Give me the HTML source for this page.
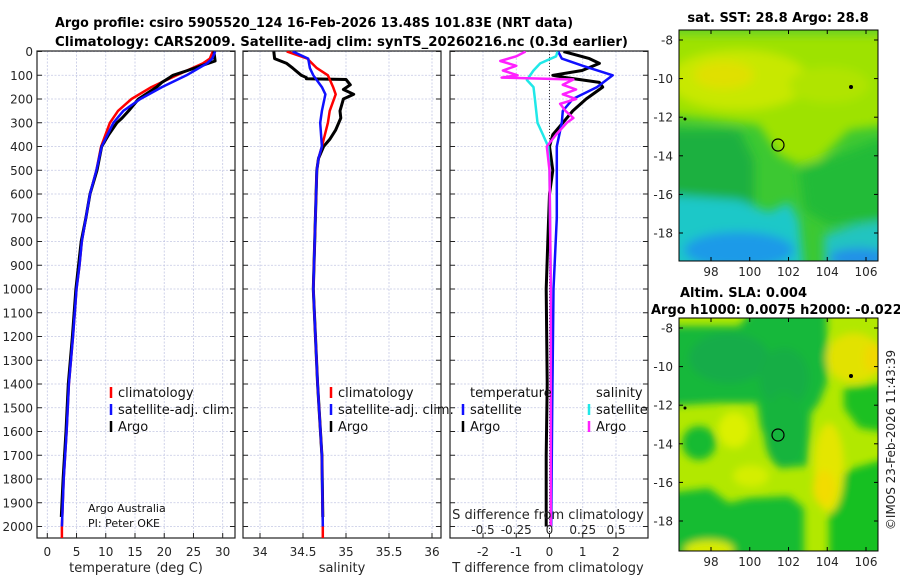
<!DOCTYPE html>
<html><head><meta charset="utf-8"><style>
html,body{margin:0;padding:0;background:#fff;}
svg{display:block;font-family:"DejaVu Sans","Liberation Sans",sans-serif;}
</style></head><body>
<svg id="fig" width="900" height="580" viewBox="0 0 900 580" xmlns="http://www.w3.org/2000/svg">
<defs>
<filter id="bl1" x="-20%" y="-20%" width="140%" height="140%"><feGaussianBlur stdDeviation="5"/></filter>
<filter id="bl2" x="-20%" y="-20%" width="140%" height="140%"><feGaussianBlur stdDeviation="4"/></filter>
<clipPath id="cm1"><rect x="679" y="30" width="199" height="231"/></clipPath>
<clipPath id="cm2"><rect x="679" y="318" width="199" height="233"/></clipPath>
<clipPath id="cp1"><rect x="37" y="51" width="198" height="487"/></clipPath>
<clipPath id="cp2"><rect x="243" y="51" width="198" height="487"/></clipPath>
<clipPath id="cp3"><rect x="450" y="51" width="198" height="487"/></clipPath>
</defs>
<text x="55" y="27" font-size="13" font-weight="bold" textLength="518" lengthAdjust="spacingAndGlyphs">Argo profile: csiro 5905520_124 16-Feb-2026 13.48S 101.83E (NRT data)</text>
<text x="55" y="46" font-size="13" font-weight="bold" textLength="573" lengthAdjust="spacingAndGlyphs">Climatology: CARS2009. Satellite-adj clim: synTS_20260216.nc (0.3d earlier)</text>

<!-- Map 1 -->
<g clip-path="url(#cm1)">
<rect x="679" y="30" width="199" height="231" fill="#3cc832"/>
<g transform="translate(679,30)" filter="url(#bl1)">
<polygon points="-10,-10 210,-10 210,95 170,100 140,130 120,135 100,125 80,95 -10,85" fill="#9ee200"/>
<ellipse cx="60" cy="50" rx="70" ry="30" fill="#c8e800"/>
<ellipse cx="45" cy="45" rx="30" ry="14" fill="#e0e000"/>
<ellipse cx="150" cy="55" rx="40" ry="18" fill="#b0e400"/>
<rect x="-10" y="-10" width="220" height="15" fill="#60d020"/>
<polygon points="-10,100 60,100 75,130 75,175 -10,170" fill="#1cb040"/>
<polygon points="120,140 199,110 210,110 210,190 150,195 125,180" fill="#22bb38"/>
<polygon points="-10,165 60,170 90,182 110,172 120,190 125,240 -10,240" fill="#1ec8c8"/>
<polygon points="145,205 175,195 210,190 210,240 145,240" fill="#20c4c0"/>
<ellipse cx="60" cy="220" rx="55" ry="18" fill="#1f9ae8"/>
<ellipse cx="180" cy="228" rx="30" ry="10" fill="#2090e8"/>
</g>
<circle cx="778" cy="145" r="6" fill="none" stroke="#000" stroke-width="1.2"/>
<circle cx="851" cy="87" r="2" fill="#000"/>
<circle cx="685" cy="119" r="1.5" fill="#000"/>
</g>
<rect x="679" y="30" width="199" height="231" fill="none" stroke="#000" stroke-width="1"/>
<text x="778" y="22" font-size="13" font-weight="bold" text-anchor="middle">sat. SST: 28.8 Argo: 28.8</text>

<!-- Map 2 -->
<g clip-path="url(#cm2)">
<rect x="679" y="318" width="199" height="233" fill="#b2e800"/>
<g transform="translate(679,318)" filter="url(#bl2)">
<polygon points="-10,8 60,8 75,-10 148,-10 148,65 140,85 132,95 128,148 100,150 82,110 78,85 40,85 -10,88" fill="#18b83a"/>
<ellipse cx="50" cy="40" rx="40" ry="25" fill="#14ac48"/>
<ellipse cx="105" cy="60" rx="25" ry="30" fill="#14ae44"/>
<ellipse cx="20" cy="125" rx="17" ry="17" fill="#18ba30"/>
<polygon points="165,70 210,65 210,115 180,110 165,90" fill="#1cc024"/>
<polygon points="-10,175 30,170 50,185 70,180 110,178 125,190 125,240 -10,240" fill="#18bc30"/>
<polygon points="150,165 175,150 210,140 210,240 150,240" fill="#18c020"/>
<ellipse cx="175" cy="40" rx="28" ry="25" fill="#e2e200"/>
<ellipse cx="195" cy="40" rx="10" ry="15" fill="#f0d800"/>
<ellipse cx="150" cy="150" rx="15" ry="45" fill="#e4e600"/>
<ellipse cx="145" cy="170" rx="11" ry="18" fill="#f2dc00"/>
<ellipse cx="55" cy="112" rx="16" ry="18" fill="#dcf000"/>
<ellipse cx="72" cy="158" rx="18" ry="11" fill="#d4ee00"/>
<ellipse cx="30" cy="232" rx="25" ry="10" fill="#d8ea00"/>
<ellipse cx="105" cy="112" rx="20" ry="38" fill="#16b43c"/>
</g>
<circle cx="778" cy="435" r="6" fill="none" stroke="#000" stroke-width="1.2"/>
<circle cx="851" cy="376" r="2" fill="#000"/>
<circle cx="685" cy="408" r="1.5" fill="#000"/>
</g>
<rect x="679" y="318" width="199" height="233" fill="none" stroke="#000" stroke-width="1"/>
<text x="680" y="297" font-size="13" font-weight="bold">Altim. SLA: 0.004</text>
<text x="651" y="314" font-size="13" font-weight="bold">Argo h1000: 0.0075 h2000: -0.022</text>
<text transform="translate(895,440) rotate(-90)" font-size="12" text-anchor="middle" fill="#222">©IMOS 23-Feb-2026 11:43:39</text>

<g id="plots"></g>
</svg>
<script>
// ---- data ----
const tempDepths = [0,30,50,100,150,200,250,300,400,500,600,700,800,900,1000,1200,1400,1600,1800,2000,2050];
const tempClim   = [28.3,27.8,26.6,22.1,17.8,14.4,12.1,10.7,9.2,8.4,7.3,6.6,5.9,5.5,5.0,4.4,3.7,3.3,2.8,2.5,2.5];
const tempSat    = [28.7,28.2,27.3,23.8,19.6,15.9,13.0,11.3,9.3,8.4,7.3,6.6,5.9,5.5,5.0,4.4,3.7,3.3,2.8,2.5,2.5];
const argoTDepths= [0,40,80,100,110,130,150,200,250,280,300,350,400,500,600,700,800,1000,1200,1400,1600,1800,1960];
const tempArgo   = [28.5,28.7,24.0,21.5,20.9,19.6,18.7,15.6,13.9,12.8,11.9,10.5,9.3,8.5,7.3,6.6,5.8,4.9,4.3,3.6,3.2,2.7,2.4];
const salDepths  = [0,30,70,100,150,180,250,300,400,450,500,1000,1400,1700,2000,2050];
const salClim    = [34.31,34.55,34.66,34.79,34.85,34.88,34.81,34.79,34.72,34.68,34.66,34.62,34.67,34.72,34.73,34.73];
const salSat     = [34.38,34.56,34.58,34.62,34.72,34.76,34.72,34.70,34.72,34.68,34.66,34.62,34.67,34.72,34.73,34.73];
const argoSDepths= [0,30,50,70,100,110,115,118,140,160,180,200,250,280,330,370,400,450,500,1000,1400,1700,1960];
const salArgo    = [34.16,34.17,34.31,34.38,34.48,34.54,34.54,35.00,35.05,34.97,35.09,34.97,34.93,34.94,34.88,34.81,34.74,34.68,34.66,34.62,34.67,34.72,34.73];
const dTSatDepths= [0,30,60,100,150,200,250,300,400,500,700,1000,1500,2000];
const dTSat      = [0.26,0.37,1.0,1.9,1.43,0.7,0.4,0.37,0.22,0.22,0.22,0.12,0.08,0.05];
const dTArgoDepths=[0,30,50,80,100,110,130,150,200,250,300,350,400,500,600,800,1000,1400,1700,2000];
const dTArgo     = [0.42,1.2,1.5,0.98,0.1,0.5,1.5,1.6,1.1,0.7,0.4,0.1,0.0,0.1,0.0,-0.05,-0.1,-0.07,-0.1,-0.1];
const dSSatDepths= [0,20,50,80,120,150,200,250,300,350,400,500,1000,2000];
const dSSat      = [0.06,0.05,-0.07,-0.12,-0.17,-0.12,-0.11,-0.1,-0.09,-0.05,-0.01,0.0,0.01,0.01];
const dSArgoDepths=[0,20,40,60,80,100,110,118,140,160,180,200,220,250,280,300,350,400,500,1000,2000];
const dSArgo     = [-0.18,-0.25,-0.37,-0.25,-0.35,-0.24,-0.36,0.18,0.1,0.2,0.1,0.2,0.08,0.12,0.18,0.13,0.05,-0.02,0.0,0.01,0.01];
const depthTicks = [0,100,200,300,400,500,600,700,800,900,1000,1100,1200,1300,1400,1500,1600,1700,1800,1900,2000];
const tempTicks  = [0,5,10,15,20,25,30];
const salTicks   = [34,34.5,35,35.5,36];
const salTickLabels = ["34","34.5","35","35.5","36"];
const dTTicks    = [-2,-1,0,1,2];
const dSTicks    = [-0.5,-0.25,0,0.25,0.5];
const dSTickLabels = ["-0.5","-0.25","0","0.25","0.5"];
const mapLonTicks = [98,100,102,104,106];
const mapLatTicks = [-8,-10,-12,-14,-16,-18];

// ---- scales ----
const NS = "http://www.w3.org/2000/svg";
const root = document.getElementById('plots');
const Y0 = 51.5, KY = 0.2375, YB = 538;
const yD = d => Y0 + d*KY;
const lin = (d0,d1,r0,r1) => v => r0 + (v-d0)/(d1-d0)*(r1-r0);
const xT  = lin(0,30,47.3,222.7);
const xS  = lin(34,36,260,432);
const xDT = lin(-2,2,483,616);
const xDS = lin(-0.5,0.5,483,616);
function el(tag, attrs, parent){ const e=document.createElementNS(NS,tag); for(const k in attrs) e.setAttribute(k,attrs[k]); (parent||root).appendChild(e); return e; }
function txt(s, attrs, parent){ const e=el('text',attrs,parent); e.textContent=s; return e; }

function panel(name, x0, x1, xs, ticks, labels, clip){
  const g = el('g',{});
  
  
  for (const d of depthTicks){ const y=yD(d); el('line',{x1:x0,x2:x1,y1:y,y2:y,stroke:'#c4c8e4','stroke-width':0.8,'stroke-dasharray':'2,1.5'},g); el('line',{x1:x0,x2:x0+5,y1:y,y2:y,stroke:'#222'},g); el('line',{x1:x1-5,x2:x1,y1:y,y2:y,stroke:'#222'},g); }
  ticks.forEach((t,i)=>{ const x=xs(t); el('line',{x1:x,x2:x,y1:51,y2:YB,stroke:'#c4c8e4','stroke-width':0.8,'stroke-dasharray':'2,1.5'},g); el('line',{x1:x,x2:x,y1:YB,y2:YB-5,stroke:'#222'},g);
    if(labels){ const l=txt(labels[i],{x:x,y:556,'font-size':12,'text-anchor':'middle',fill:'#262626'},g);   } });
  el('rect',{x:x0,y:51,width:x1-x0,height:YB-51,fill:'none',stroke:'#222','stroke-width':1.2},g);
  const lg = el('g',{'clip-path':clip},g);
  return lg;
}
function line(g, xs, depths, vals, color, w, name){
  const p = depths.map((d,i)=>xs(vals[i]).toFixed(1)+','+yD(d).toFixed(1)).join(' ');
  const e = el('polyline',{points:p,fill:'none',stroke:color,'stroke-width':w,'stroke-linejoin':'round'},g);
  
  
}
for (const d of depthTicks){ const t=txt(String(d),{x:33,y:yD(d)+4.5,'font-size':12,'text-anchor':'end',fill:'#262626'});
  
   }

const g1 = panel('temperature-panel',37,235,xT,tempTicks,tempTicks.map(String),'url(#cp1)');
line(g1,xT,tempDepths,tempClim,'#f00',2.5,'temp-climatology-line');
line(g1,xT,argoTDepths,tempArgo,'#000',3,'temp-argo-line');
line(g1,xT,tempDepths.slice(0,-1),tempSat.slice(0,-1),'#1010ff',2.5,'temp-satellite-line');
const g2 = panel('salinity-panel',243,441,xS,salTicks,salTickLabels,'url(#cp2)');
line(g2,xS,argoSDepths,salArgo,'#000',3,'sal-argo-line');
line(g2,xS,salDepths,salClim,'#f00',2.5,'sal-climatology-line');
line(g2,xS,salDepths.slice(0,-1),salSat.slice(0,-1),'#1010ff',2.5,'sal-satellite-line');
const g3 = panel('difference-panel',450,648,xDT,dTTicks,dTTicks.map(String),'url(#cp3)');
el('line',{x1:xDT(0),x2:xDT(0),y1:51,y2:YB,stroke:'#333','stroke-width':1,'stroke-dasharray':'1,2'},g3);
line(g3,xDT,dTArgoDepths,dTArgo,'#000',3,'dT-argo-line');
line(g3,xDT,dTSatDepths,dTSat,'#1010ff',2.5,'dT-satellite-line');
line(g3,xDS,dSSatDepths,dSSat,'#20e8e8',2.5,'dS-satellite-line');
line(g3,xDS,dSArgoDepths,dSArgo,'#ff20ff',2.5,'dS-argo-line');
dSTicks.forEach((t,i)=>{ const l=txt(dSTickLabels[i],{x:xDS(t),y:534,'font-size':12,'text-anchor':'middle',fill:'#262626'});
  
   });

const at=[['temperature (deg C)',136,'x-axis-title-temperature'],['salinity',342,'x-axis-title-salinity'],['T difference from climatology',548,'x-axis-title-t-diff']];
for (const a of at){ const t=txt(a[0],{x:a[1],y:572,'font-size':13,'text-anchor':'middle',fill:'#262626'});
  
   }
const st = txt('S difference from climatology',{x:548,y:519,'font-size':13,'text-anchor':'middle',fill:'#262626'});



function legend(x, y, color, label, name){
  const g = el('g',{});
  
  
  el('line',{x1:x,x2:x,y1:y-10,y2:y+1,stroke:color,'stroke-width':2.5},g);
  txt(label,{x:x+7,y:y,'font-size':13,fill:'#111'},g);
}
legend(111,397,'#f00','climatology','legend-temp-climatology');
legend(111,414,'#1010ff','satellite-adj. clim.','legend-temp-satellite');
legend(111,431,'#000','Argo','legend-temp-argo');
legend(331,397,'#f00','climatology','legend-sal-climatology');
legend(331,414,'#1010ff','satellite-adj. clim.','legend-sal-satellite');
legend(331,431,'#000','Argo','legend-sal-argo');
const lt1=txt('temperature',{x:470,y:397,'font-size':13,fill:'#111'});


const lt2=txt('salinity',{x:596,y:397,'font-size':13,fill:'#111'});


legend(463,414,'#1010ff','satellite','legend-dT-satellite');
legend(463,431,'#000','Argo','legend-dT-argo');
legend(589,414,'#20e8e8','satellite','legend-dS-satellite');
legend(589,431,'#ff20ff','Argo','legend-dS-argo');
const c1=txt('Argo Australia',{x:88,y:512,'font-size':11,fill:'#111'});


const c2=txt('PI: Peter OKE',{x:88,y:527,'font-size':11,fill:'#111'});



const mLon = lin(98,106,711,866);
function mapAxes(top, bottom, latY0, name){
  const mLat = lin(-8,-18,latY0,latY0+193);
  const g = el('g',{});
  
  
  mapLonTicks.forEach(v=>{ const x=mLon(v); el('line',{x1:x,x2:x,y1:bottom,y2:bottom-4,stroke:'#000'},g); el('line',{x1:x,x2:x,y1:top,y2:top+4,stroke:'#000'},g);
    txt(String(v),{x:x,y:bottom+15,'font-size':12,'text-anchor':'middle',fill:'#262626'},g); });
  mapLatTicks.forEach(v=>{ const y=mLat(v); el('line',{x1:679,x2:683,y1:y,y2:y,stroke:'#000'},g); el('line',{x1:874,x2:878,y1:y,y2:y,stroke:'#000'},g);
    txt(String(v),{x:673,y:y+4.5,'font-size':12,'text-anchor':'end',fill:'#262626'},g); });
}
mapAxes(30,261,40,'sst-map-axes');
mapAxes(318,551,328,'sla-map-axes');
</script>
</body></html>
